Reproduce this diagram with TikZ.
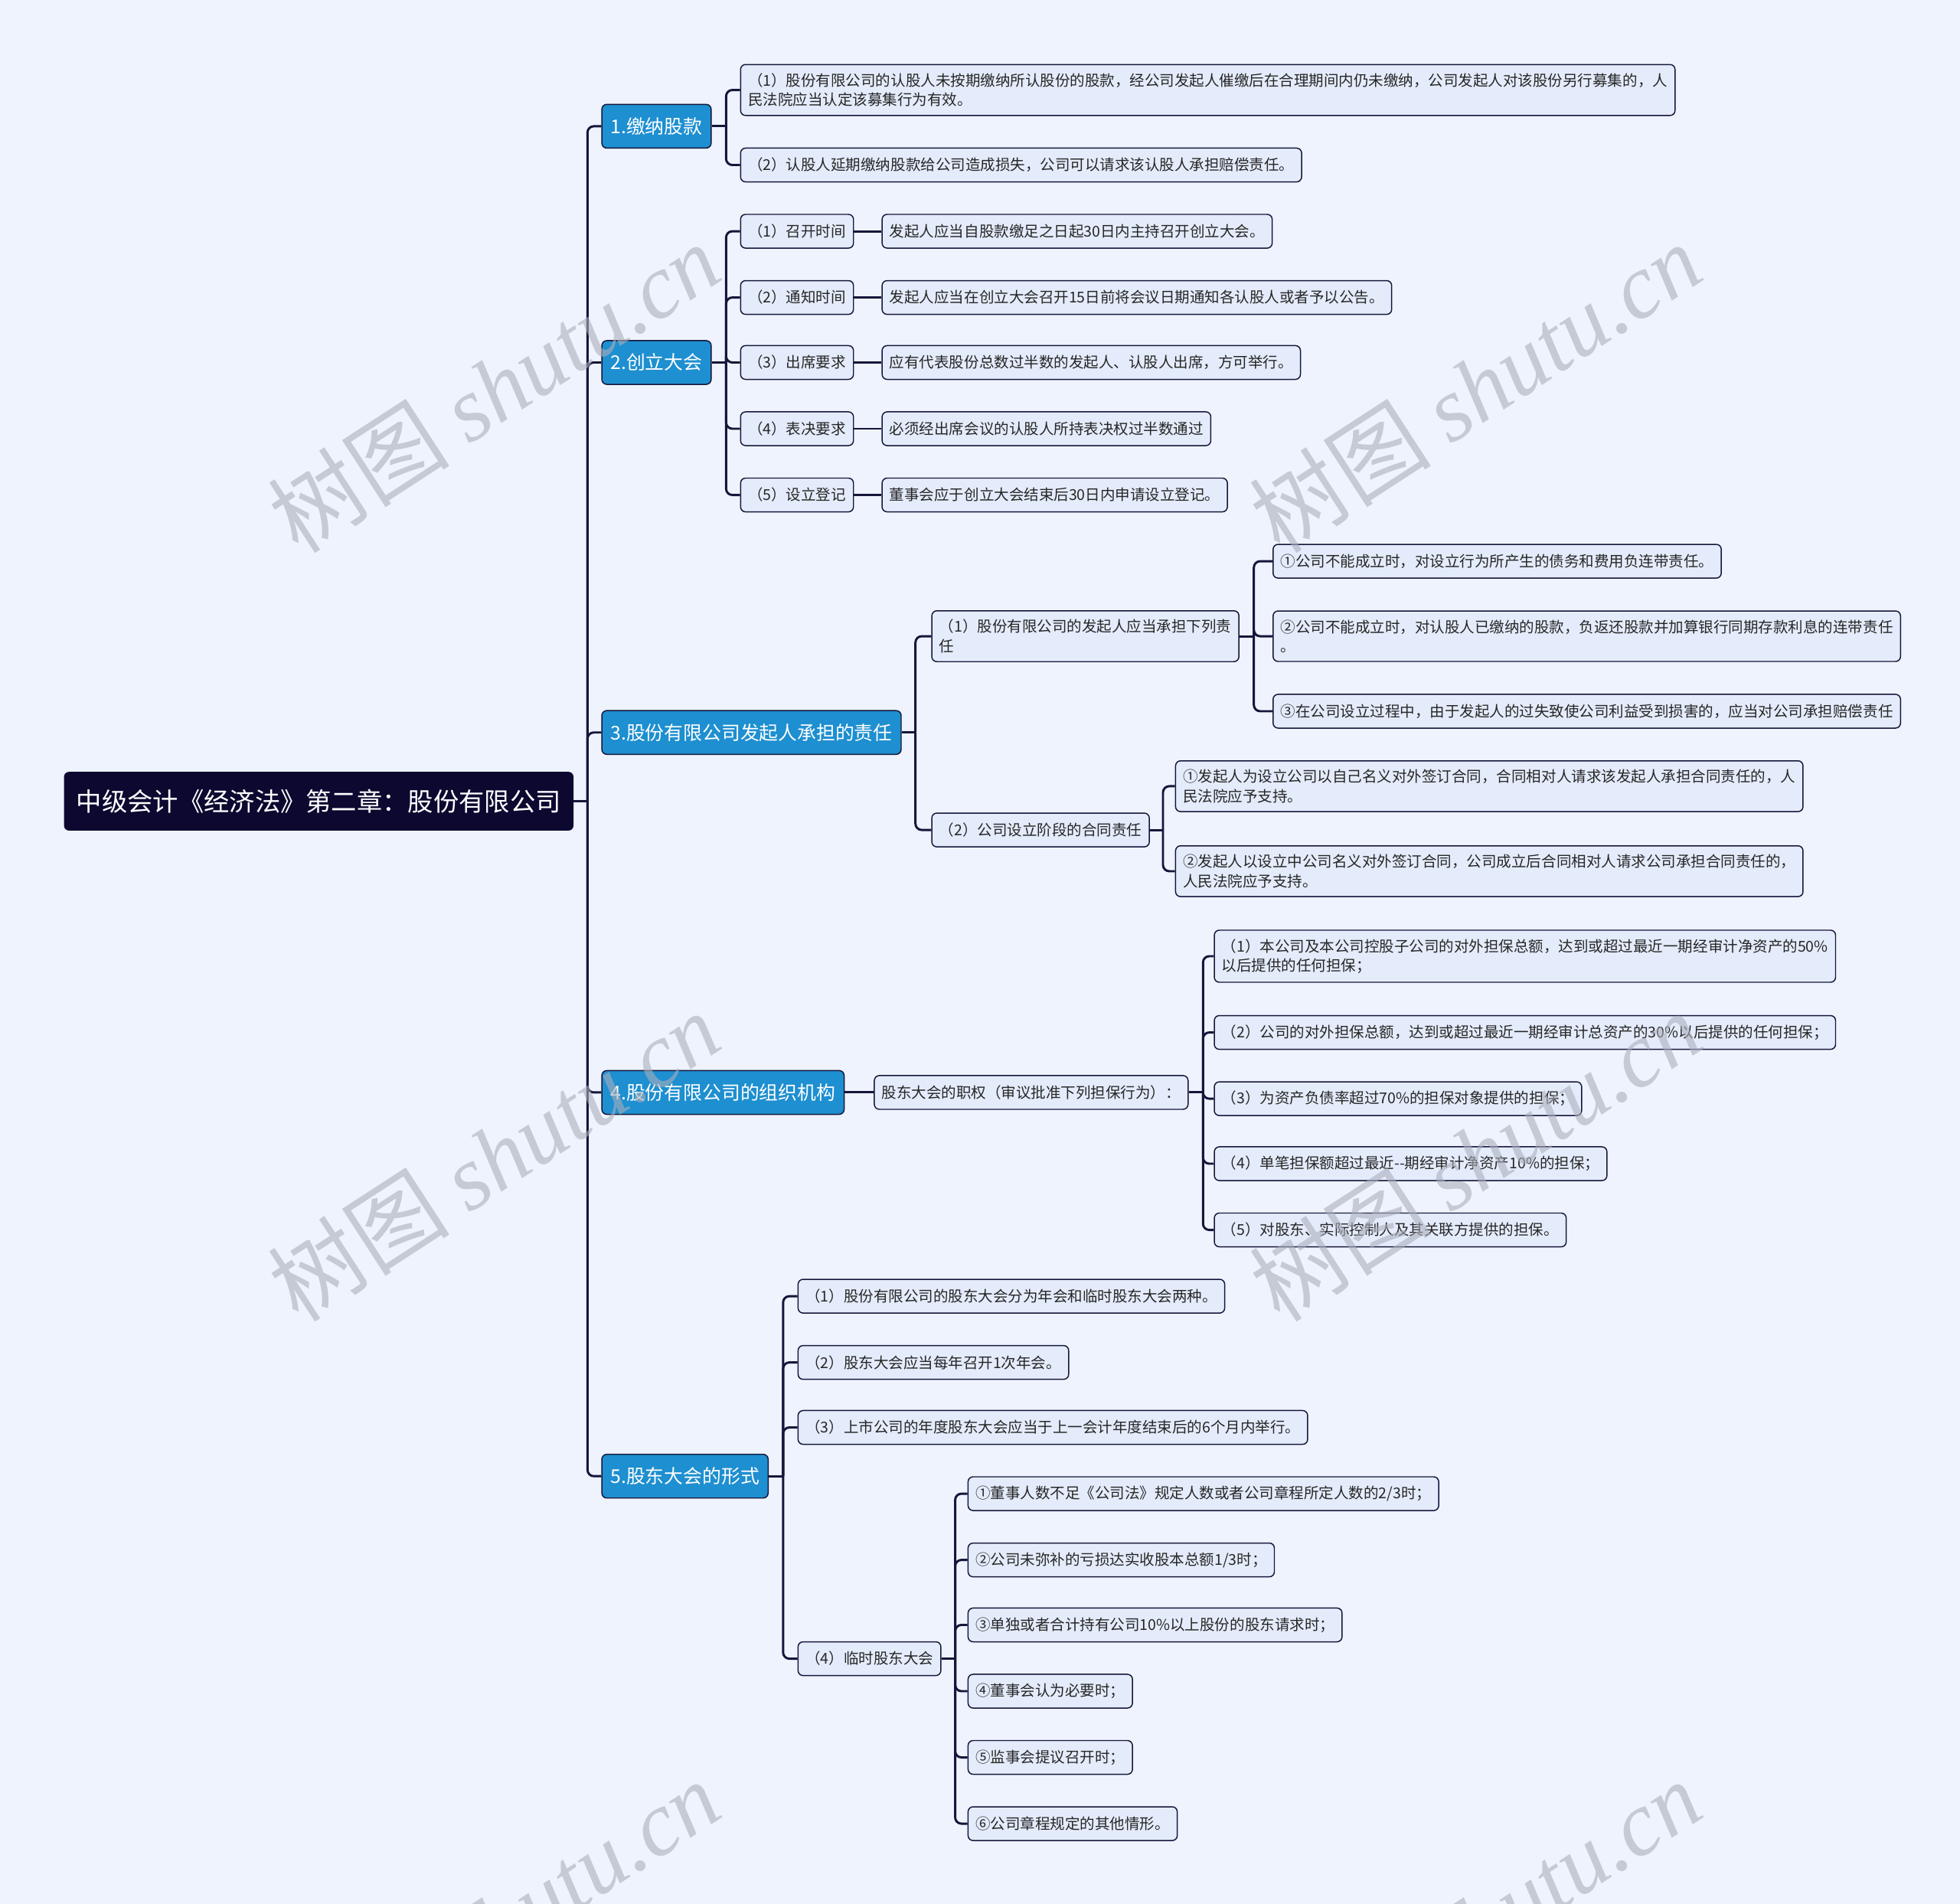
\documentclass[tikz,border=0pt]{standalone}
\usepackage{fontspec}
\setmainfont{Noto Sans CJK SC}
\newfontfamily\wmlatin{Liberation Serif}
\usetikzlibrary{positioning}
\definecolor{bgblue}{HTML}{EEF3FE}
\definecolor{rootnavy}{HTML}{0C0830}
\definecolor{topicblue}{HTML}{1E8FD0}
\definecolor{leafblue}{HTML}{E4ECFB}
\definecolor{linenavy}{HTML}{16163A}
\definecolor{markgray}{HTML}{AAAFBB}

\begin{document}
\begin{tikzpicture}[
  x=1pt, y=-1pt,
  root/.style={fill=rootnavy, text=white, rounded corners=4pt, anchor=west, minimum height=47pt, inner xsep=10pt, font=\fontsize{20.4}{24}\selectfont},
  topic/.style={draw=linenavy, line width=0.9pt, fill=topicblue, text=white, rounded corners=4pt, anchor=west, minimum height=35pt, inner xsep=7pt, font=\fontsize{15.2}{18}\selectfont},
  leaf/.style={draw=linenavy, line width=0.9pt, fill=leafblue, text=black!85, rounded corners=4pt, anchor=west, align=left, minimum height=27pt, inner xsep=6pt, inner ysep=7pt, font=\fontsize{11.95}{15.5}\selectfont},
  link/.style={draw=linenavy, line width=1.8pt, rounded corners=5pt},
  wmark/.style={text=markgray, opacity=0.6, rotate=33, font=\fontsize{73}{73}\selectfont}
]
\useasboundingbox[fill=bgblue] (0,0) rectangle (1568,1523);

\node[root] (root) at (51,641) {中级会计《经济法》第二章：股份有限公司};

\node[topic] (pay) at (481,101) {1.缴纳股款};
\node[topic] (meet) at (481,290) {2.创立大会};
\node[topic] (duty) at (481,586) {3.股份有限公司发起人承担的责任};
\node[topic] (organ) at (481,874) {4.股份有限公司的组织机构};
\node[topic] (form) at (481,1181) {5.股东大会的形式};

\node[leaf] (pay1) at (592,72) {（1）股份有限公司的认股人未按期缴纳所认股份的股款，经公司发起人催缴后在合理期间内仍未缴纳，公司发起人对该股份另行募集的，人\\民法院应当认定该募集行为有效。};
\node[leaf] (pay2) at (592,132) {（2）认股人延期缴纳股款给公司造成损失，公司可以请求该认股人承担赔偿责任。};

\node[leaf] (meet1) at (592,185) {（1）召开时间};
\node[leaf, right=22pt of meet1] (rule1) {发起人应当自股款缴足之日起30日内主持召开创立大会。};
\node[leaf] (meet2) at (592,238) {（2）通知时间};
\node[leaf, right=22pt of meet2] (rule2) {发起人应当在创立大会召开15日前将会议日期通知各认股人或者予以公告。};
\node[leaf] (meet3) at (592,290) {（3）出席要求};
\node[leaf, right=22pt of meet3] (rule3) {应有代表股份总数过半数的发起人、认股人出席，方可举行。};
\node[leaf] (meet4) at (592,343) {（4）表决要求};
\node[leaf, right=22pt of meet4] (rule4) {必须经出席会议的认股人所持表决权过半数通过};
\node[leaf] (meet5) at (592,396) {（5）设立登记};
\node[leaf, right=22pt of meet5] (rule5) {董事会应于创立大会结束后30日内申请设立登记。};

\node[leaf] (duty1) at (745,509) {（1）股份有限公司的发起人应当承担下列责\\任};
\node[leaf] (duty11) at (1018,449) {①公司不能成立时，对设立行为所产生的债务和费用负连带责任。};
\node[leaf] (duty12) at (1018,509) {②公司不能成立时，对认股人已缴纳的股款，负返还股款并加算银行同期存款利息的连带责任\\。};
\node[leaf] (duty13) at (1018,569) {③在公司设立过程中，由于发起人的过失致使公司利益受到损害的，应当对公司承担赔偿责任};
\node[leaf] (duty2) at (745,664) {（2）公司设立阶段的合同责任};
\node[leaf] (duty21) at (940,629) {①发起人为设立公司以自己名义对外签订合同，合同相对人请求该发起人承担合同责任的，人\\民法院应予支持。};
\node[leaf] (duty22) at (940,697) {②发起人以设立中公司名义对外签订合同，公司成立后合同相对人请求公司承担合同责任的，\\人民法院应予支持。};

\node[leaf] (organ1) at (699,874) {股东大会的职权（审议批准下列担保行为）：};
\node[leaf] (organ11) at (971,765) {（1）本公司及本公司控股子公司的对外担保总额，达到或超过最近一期经审计净资产的50\%\\以后提供的任何担保；};
\node[leaf] (organ12) at (971,826) {（2）公司的对外担保总额，达到或超过最近一期经审计总资产的30\%以后提供的任何担保；};
\node[leaf] (organ13) at (971,879) {（3）为资产负债率超过70\%的担保对象提供的担保；};
\node[leaf] (organ14) at (971,931) {（4）单笔担保额超过最近{-}{-}期经审计净资产10\%的担保；};
\node[leaf] (organ15) at (971,984) {（5）对股东、实际控制人及其关联方提供的担保。};

\node[leaf] (form1) at (638,1037) {（1）股份有限公司的股东大会分为年会和临时股东大会两种。};
\node[leaf] (form2) at (638,1090) {（2）股东大会应当每年召开1次年会。};
\node[leaf] (form3) at (638,1142) {（3）上市公司的年度股东大会应当于上一会计年度结束后的6个月内举行。};
\node[leaf] (form4) at (638,1327) {（4）临时股东大会};
\node[leaf] (form41) at (774,1195) {①董事人数不足《公司法》规定人数或者公司章程所定人数的2/3时；};
\node[leaf] (form42) at (774,1248) {②公司未弥补的亏损达实收股本总额1/3时；};
\node[leaf] (form43) at (774,1300) {③单独或者合计持有公司10\%以上股份的股东请求时；};
\node[leaf] (form44) at (774,1353) {④董事会认为必要时；};
\node[leaf] (form45) at (774,1406) {⑤监事会提议召开时；};
\node[leaf] (form46) at (774,1459) {⑥公司章程规定的其他情形。};

\draw[link] (root.east) -- ++(11pt,0);
\foreach \c in {pay,meet,duty,organ,form}
  \draw[link] (root.east) ++(11pt,0) |- (\c.west);

\draw[link] (pay.east) -- ++(11.5pt,0);
\foreach \c in {pay1,pay2}
  \draw[link] (pay.east) ++(11.5pt,0) |- (\c.west);

\draw[link] (meet.east) -- ++(11.5pt,0);
\foreach \c in {1,...,5} {
  \draw[link] (meet.east) ++(11.5pt,0) |- (meet\c.west);
  \draw[link] (meet\c.east) -- (rule\c.west);
}

\draw[link] (duty.east) -- ++(11pt,0);
\foreach \c in {duty1,duty2}
  \draw[link] (duty.east) ++(11pt,0) |- (\c.west);
\draw[link] (duty1.east) -- ++(11.5pt,0);
\foreach \c in {duty11,duty12,duty13}
  \draw[link] (duty1.east) ++(11.5pt,0) |- (\c.west);
\draw[link] (duty2.east) -- ++(10.5pt,0);
\foreach \c in {duty21,duty22}
  \draw[link] (duty2.east) ++(10.5pt,0) |- (\c.west);

\draw[link] (organ.east) -- (organ1.west);
\draw[link] (organ1.east) -- ++(11.5pt,0);
\foreach \c in {organ11,organ12,organ13,organ14,organ15}
  \draw[link] (organ1.east) ++(11.5pt,0) |- (\c.west);

\draw[link] (form.east) -- ++(11.5pt,0);
\foreach \c in {form1,form2,form3,form4}
  \draw[link] (form.east) ++(11.5pt,0) |- (\c.west);
\draw[link] (form4.east) -- ++(11pt,0);
\foreach \c in {form41,form42,form43,form44,form45,form46}
  \draw[link] (form4.east) ++(11pt,0) |- (\c.west);

\foreach \wx/\wy in {395/310, 1180/310, 395/925, 1180/925, 395/1540, 1180/1540}
  \node[wmark] (wm-\wx-\wy) at (\wx,\wy) {树图 {\wmlatin\itshape shutu.cn}};
\end{tikzpicture}
\end{document}
